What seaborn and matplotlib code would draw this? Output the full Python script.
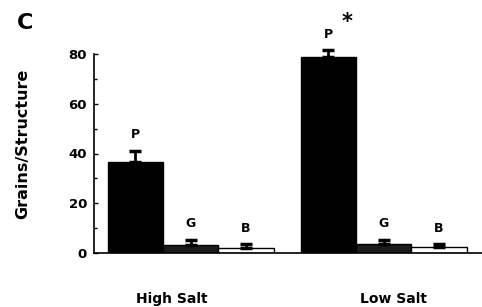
import numpy as np
import pandas as pd
import matplotlib
matplotlib.use("Agg")
import matplotlib.pyplot as plt
import matplotlib.transforms as mtransforms
from matplotlib.ticker import MultipleLocator
import seaborn as sns

# values
conditions = ["High Salt", "Low Salt"]
structures = ["P", "G", "B"]
grains_high = [36.5, 3.2, 2.0]
grains_low = [78.7, 3.5, 2.5]
sem_high = [4.5, 2.0, 1.5]
sem_low = [2.8, 1.8, 1.0]

df = pd.DataFrame({
  "salt": [c for c in conditions for s in structures],
  "structure": structures * 2,
  "grains": grains_high + grains_low,
  "sem": sem_high + sem_low,
})

sns.set_style("ticks", {"axes.edgecolor": "black", "text.color": "black",
                        "xtick.color": "black", "ytick.color": "black",
                        "axes.labelcolor": "black"})
plt.rcParams['font.family'] = ['DejaVu Sans']

fig = plt.figure(figsize=(4.82, 3.07), dpi=100)
ax = fig.add_axes([0.195, 0.176, 0.805, 0.648])

pal = {"P": "black", "G": "#1c1c1c", "B": "white"}
sns.barplot(data=df, x="salt", y="grains", hue="structure", hue_order=structures,
            order=conditions, palette=pal, width=0.86, errorbar=None,
            edgecolor="black", linewidth=1.0, legend=False, ax=ax)

# error bars (upward only) and letter labels on each bar
for container, s in zip(ax.containers, structures):
  sub = df[df["structure"] == s].set_index("salt").loc[conditions]
  for bar, (_, row) in zip(container, sub.iterrows()):
    xc = bar.get_x() + bar.get_width() / 2
    top = row["grains"]
    ax.errorbar(xc, top, yerr=[[0], [row["sem"]]], fmt="none", ecolor="black",
                elinewidth=2, capsize=4, capthick=2.5, clip_on=False)
    ax.text(xc, top + row["sem"] + 6.5, s, ha="center", va="center",
            fontsize=9, fontweight="bold", clip_on=False)
    if s == "P" and row.name == "Low Salt":
      ax.text(xc + 0.1, top + row["sem"] + 11.5, "*", ha="center", va="center",
              fontsize=15, fontweight="bold", clip_on=False)

ax.set_xlim(-0.50, 1.51)
ax.set_ylim(0, 80)
ax.yaxis.set_major_locator(MultipleLocator(20))
ax.yaxis.set_minor_locator(MultipleLocator(10))
ax.tick_params(axis="y", which="major", direction="in", length=3, width=1,
               labelsize=9.5, pad=5)
ax.tick_params(axis="y", which="minor", direction="in", length=2, width=1)
ax.tick_params(axis="x", length=0, labelsize=10, pad=28)
for lab in ax.get_yticklabels() + ax.get_xticklabels():
  lab.set_fontweight("bold")

# the group names sit a little off the group centres in the reference
shifts = [-19, 10]
for lab, dx in zip(ax.get_xticklabels(), shifts):
  lab.set_transform(lab.get_transform() +
                    mtransforms.ScaledTranslation(dx / 100, 0, fig.dpi_scale_trans))

sns.despine(ax=ax)
ax.spines["left"].set_linewidth(1.2)
ax.spines["bottom"].set_linewidth(1.2)

ax.set_xlabel("")
ax.set_ylabel("Grains/Structure", fontsize=11.5, fontweight="bold")
ax.yaxis.set_label_coords(-0.165, 0.55)

fig.text(0.052, 0.925, "C", fontsize=16, fontweight="bold", ha="center", va="center")

fig.savefig("out.png", dpi=100)
